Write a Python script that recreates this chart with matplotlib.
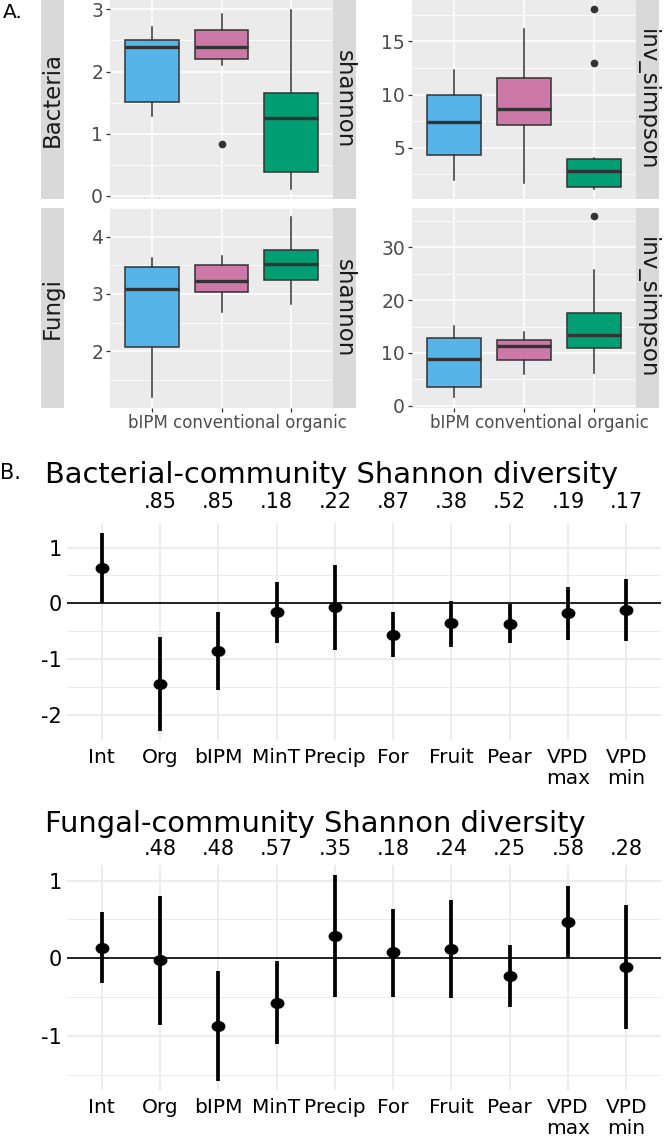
import numpy as np
import matplotlib.pyplot as plt
from matplotlib.path import Path
from matplotlib.transforms import Affine2D, blended_transform_factory

plt.rcParams['font.family'] = ['DejaVu Sans']
plt.rcParams['axes.unicode_minus'] = False

# ---------------- A. box summaries ----------------
groups = ['bIPM', 'conventional', 'organic']
box_colors = ['#56B4E9', '#CC79A7', '#009E73']

# each row: lower whisker, Q1, median, Q3, upper whisker
bac_shannon = [[1.29, 1.51, 2.39, 2.50, 2.72],
               [2.10, 2.20, 2.40, 2.67, 2.93],
               [0.11, 0.39, 1.26, 1.66, 2.99]]
bac_shannon_out = [[], [0.83], []]

bac_invsimp = [[1.95, 4.34, 7.45, 10.0, 12.3],
               [1.70, 7.17, 8.65, 11.58, 16.2],
               [1.10, 1.32, 2.77, 3.90, 4.06]]
bac_invsimp_out = [[], [], [13.0, 18.08]]

fun_shannon = [[1.20, 2.07, 3.08, 3.47, 3.63],
               [2.68, 3.03, 3.22, 3.51, 3.67],
               [2.82, 3.25, 3.53, 3.77, 4.34]]
fun_shannon_out = [[], [], []]

fun_invsimp = [[1.6, 3.5, 8.9, 12.8, 15.1],
               [6.0, 8.75, 11.3, 12.5, 13.9],
               [6.3, 11.0, 13.4, 17.6, 25.7]]
fun_invsimp_out = [[], [], [35.8]]

# ---------------- B. model coefficients ----------------
terms = ['Int', 'Org', 'bIPM', 'MinT', 'Precip', 'For', 'Fruit', 'Pear',
         'VPD\nmax', 'VPD\nmin']

bac_est = [0.63, -1.44, -0.85, -0.16, -0.07, -0.57, -0.36, -0.37, -0.17, -0.12]
bac_lo = [0.0, -2.28, -1.56, -0.72, -0.84, -0.97, -0.79, -0.72, -0.66, -0.67]
bac_hi = [1.26, -0.61, -0.15, 0.39, 0.69, -0.16, 0.05, -0.01, 0.30, 0.43]
bac_p = ['', '.85', '.85', '.18', '.22', '.87', '.38', '.52', '.19', '.17']

fun_est = [0.14, -0.02, -0.87, -0.57, 0.29, 0.08, 0.12, -0.23, 0.47, -0.11]
fun_lo = [-0.32, -0.86, -1.58, -1.10, -0.49, -0.49, -0.51, -0.63, 0.0, -0.91]
fun_hi = [0.60, 0.80, -0.16, -0.03, 1.07, 0.64, 0.75, 0.17, 0.93, 0.68]
fun_p = ['', '.48', '.48', '.57', '.35', '.18', '.24', '.25', '.58', '.28']

W, H = 666, 1138
fig = plt.figure(figsize=(W / 100, H / 100), dpi=100)


def px(x0, y0, x1, y1):
    # pixel box (from top-left) -> figure rect
    return [x0 / W, 1 - y1 / H, (x1 - x0) / W, (y1 - y0) / H]


def strip(rect, label, rot):
    sax = fig.add_axes(rect)
    sax.set_facecolor('#D9D9D9')
    sax.set_xticks([])
    sax.set_yticks([])
    for sp in sax.spines.values():
        sp.set_visible(False)
    sax.text(0.5, 0.5, label, rotation=rot, ha='center', va='center',
             fontsize=16.5, color='#1A1A1A', transform=sax.transAxes)


def box_panel(rect, stats, outs, ylim, yticks, yminor, bottom):
    ax = fig.add_axes(rect)
    ax.set_facecolor('#EBEBEB')
    bs = []
    for s, o in zip(stats, outs):
        bs.append(dict(whislo=s[0], q1=s[1], med=s[2], q3=s[3], whishi=s[4],
                       fliers=o))
    parts = ax.bxp(bs, positions=range(len(groups)), widths=0.77,
                   patch_artist=True, showcaps=False,
                   boxprops=dict(edgecolor='#333333', linewidth=1.1),
                   whiskerprops=dict(color='#333333', linewidth=1.1),
                   medianprops=dict(color='#333333', linewidth=2.4),
                   flierprops=dict(marker='o', markerfacecolor='#333333',
                                   markeredgecolor='#333333', markersize=4.5))
    for patch, c in zip(parts['boxes'], box_colors):
        patch.set_facecolor(c)
    ax.set_xlim(-0.6, len(groups) - 0.4)
    ax.set_ylim(*ylim)
    ax.set_yticks(yticks)
    ax.set_yticks(yminor, minor=True)
    ax.set_xticks(range(len(groups)))
    ax.set_xticklabels([])
    ax.set_axisbelow(True)
    ax.grid(True, which='major', color='white', lw=1.1)
    ax.grid(True, which='minor', axis='y', color='white', lw=0.55)
    for sp in ax.spines.values():
        sp.set_visible(False)
    ax.tick_params(which='major', length=3, width=0.9, color='#333333',
                   labelsize=13.5, labelcolor='#4D4D4D', pad=2)
    ax.tick_params(which='minor', length=0)
    if bottom:
        ax.set_xlabel(' '.join(groups), fontsize=12, color='#4D4D4D')
        ax.xaxis.set_label_coords(0.57, -0.03)
    else:
        ax.tick_params(axis='x', length=0)
    return ax


box_panel(px(110, 0, 333, 199), bac_shannon, bac_shannon_out,
          (-0.05, 3.15), [0, 1, 2, 3], [0.5, 1.5, 2.5], False)
box_panel(px(110, 208, 333, 408), fun_shannon, fun_shannon_out,
          (1.01, 4.5), [2, 3, 4], [1.5, 2.5, 3.5, 4.5], True)
box_panel(px(412, 0, 636, 199), bac_invsimp, bac_invsimp_out,
          (0.18, 18.9), [5, 10, 15], [2.5, 7.5, 12.5, 17.5], False)
box_panel(px(412, 208, 636, 408), fun_invsimp, fun_invsimp_out,
          (-0.4, 37.4), [0, 10, 20, 30], [5, 15, 25, 35], True)

strip(px(41, 0, 64, 199), 'Bacteria', 90)
strip(px(41, 208, 64, 408), 'Fungi', 90)
strip(px(333, 0, 356, 199), 'shannon', 270)
strip(px(333, 208, 356, 408), 'shannon', 270)
strip(px(636, 0, 659, 199), 'inv_simpson', 270)
strip(px(636, 208, 659, 408), 'inv_simpson', 270)

fig.text(3 / W, 1 - 13 / H, 'A.', fontsize=14.5, va='center', ha='left')

# ---------------- B. coefficient plots ----------------
ell = Path.unit_circle().transformed(Affine2D().scale(1.3, 1.0))


def coef_panel(rect, est, lo, hi, pvals, ylim, yticks, yminor, p_off):
    ax = fig.add_axes(rect)
    x = np.arange(len(terms))
    ax.set_xlim(-0.6, len(terms) - 0.4)
    ax.set_ylim(*ylim)
    ax.axhline(0, color='black', lw=1.2, zorder=2)
    ax.vlines(x, lo, hi, color='black', lw=2.7, zorder=3)
    ax.plot(x, est, linestyle='none', marker=ell, markersize=9,
            color='black', zorder=4)
    ax.set_xticks(x)
    ax.set_xticklabels(terms, linespacing=1.1)
    ax.set_yticks(yticks)
    ax.set_yticks(yminor, minor=True)
    ax.set_axisbelow(True)
    ax.grid(True, which='major', color='#EBEBEB', lw=1.3)
    ax.grid(True, which='minor', axis='y', color='#EBEBEB', lw=0.7)
    for sp in ax.spines.values():
        sp.set_visible(False)
    ax.tick_params(axis='x', length=0, labelsize=14.5, pad=6)
    ax.tick_params(axis='y', length=0, labelsize=15, pad=3.5)
    ax.tick_params(which='minor', length=0)
    tr = blended_transform_factory(ax.transData, ax.transAxes)
    for xi, p in zip(x, pvals):
        ax.text(xi, 1 + p_off, p, transform=tr, ha='center', va='center',
                fontsize=15)
    return ax


coef_panel(px(66.7, 523, 661.3, 740), bac_est, bac_lo, bac_hi, bac_p,
           (-2.45, 1.44), [1, 0, -1, -2], [0.5, -0.5, -1.5], 0.097)
coef_panel(px(66.7, 865, 661.3, 1090), fun_est, fun_lo, fun_hi, fun_p,
           (-1.69, 1.20), [1, 0, -1], [0.5, -0.5, -1.5], 0.07)

fig.text(45 / W, 1 - 483 / H, 'Bacterial-community Shannon diversity',
         fontsize=20.8, ha='left', va='baseline')
fig.text(45 / W, 1 - 832 / H, 'Fungal-community Shannon diversity',
         fontsize=20.8, ha='left', va='baseline')
fig.text(0, 1 - 473 / H, 'B.', fontsize=15, ha='left', va='center')

fig.savefig('out.png', dpi=100)
